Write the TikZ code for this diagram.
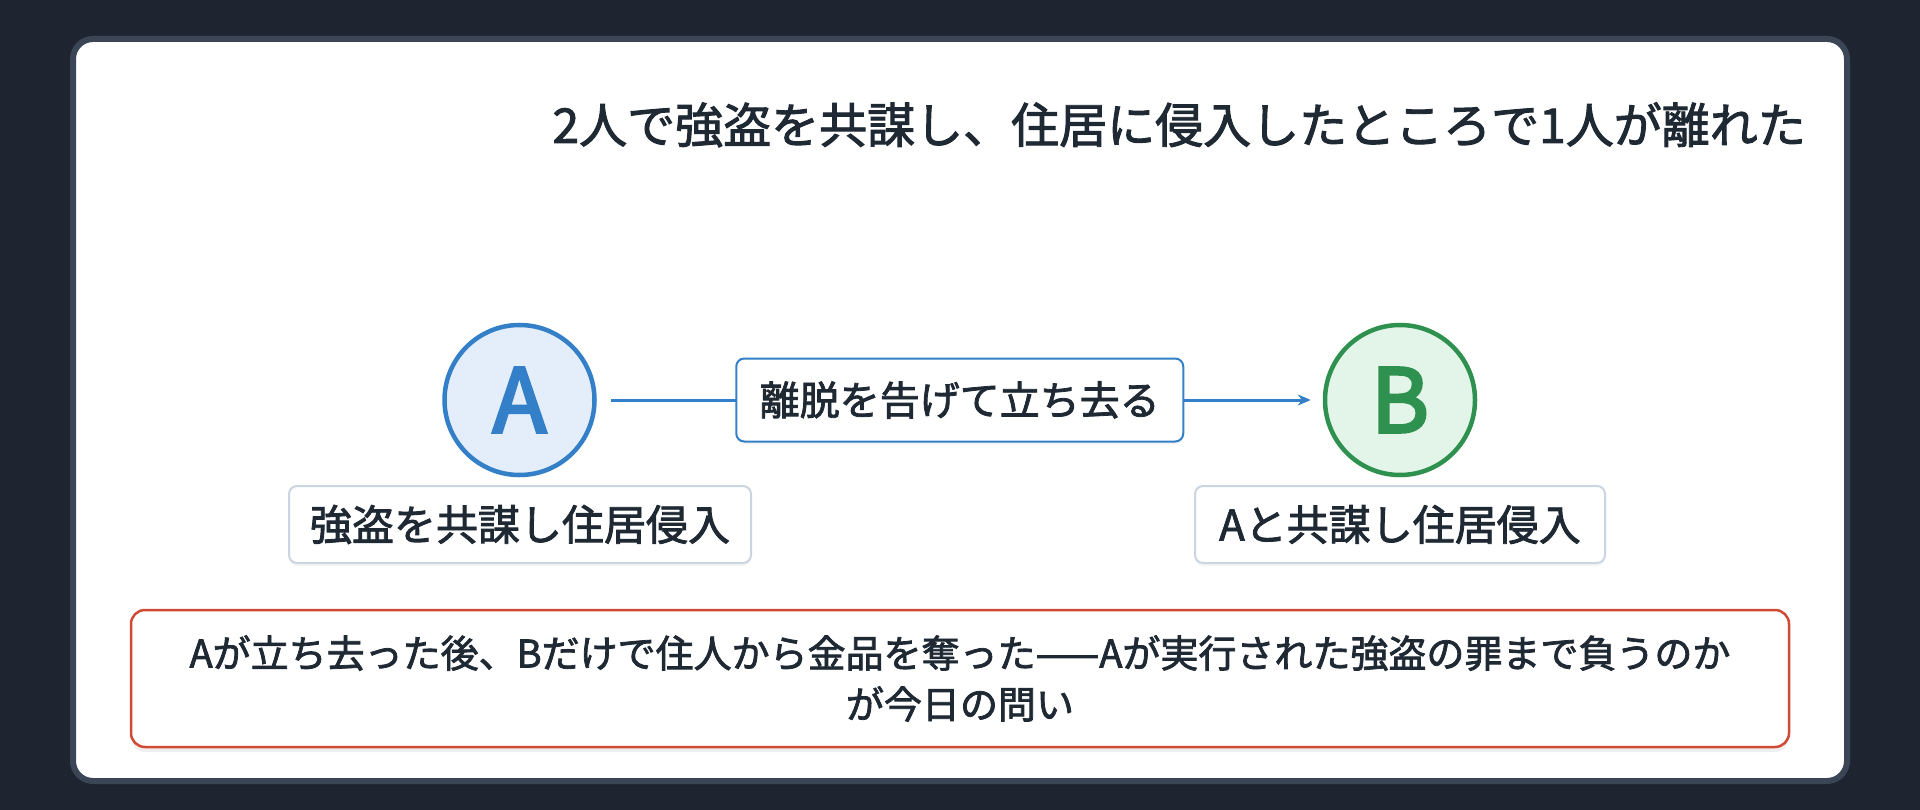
\documentclass[tikz,border=0pt]{standalone}
\usepackage{fontspec}
\setmainfont[FakeBold=2]{Noto Sans CJK JP}
\newfontfamily\letterfont[FakeBold=3.5]{Noto Sans CJK JP}
\usetikzlibrary{arrows.meta,shadows}
\definecolor{bgdark}{HTML}{1E2530}
\definecolor{cardborder}{HTML}{3A4555}
\definecolor{textdark}{HTML}{1F2933}
\definecolor{ablue}{HTML}{3380C8}
\definecolor{afill}{HTML}{E3EEFA}
\definecolor{bgreen}{HTML}{2E9150}
\definecolor{bfill}{HTML}{E3F5E8}
\definecolor{labelborder}{HTML}{CBD5E1}
\definecolor{qred}{HTML}{D14B34}
\tikzset{
  actor/.style={circle, minimum size=150pt, inner sep=0pt, line width=4.5pt,
    font=\letterfont\fontsize{88}{96}\selectfont},
  actorlabel/.style={rectangle, rounded corners=8pt, draw=labelborder, line width=2pt,
    fill=white, minimum height=77pt, inner sep=0pt, text=textdark,
    font=\fontsize{42}{50}\selectfont,
    drop shadow={opacity=0.08, shadow xshift=0pt, shadow yshift=-3pt}},
  edgebox/.style={rectangle, rounded corners=8pt, draw=ablue, line width=2pt,
    fill=white, minimum width=447pt, minimum height=83pt, inner sep=0pt, text=textdark,
    font=\fontsize{40}{48}\selectfont,
    drop shadow={opacity=0.08, shadow xshift=0pt, shadow yshift=-3pt}},
  questionbox/.style={rectangle, rounded corners=14pt, draw=qred, line width=2.5pt,
    fill=white, minimum width=1658pt, minimum height=137pt, inner sep=0pt, text=textdark,
    align=center, font=\fontsize{38}{51}\selectfont,
    drop shadow={opacity=0.12, shadow xshift=0pt, shadow yshift=-5pt}},
  flowarrow/.style={draw=ablue, line width=3pt, -{Stealth[length=13pt,width=11pt]}}
}
\begin{document}
\begin{tikzpicture}[x=1pt,y=-1pt]
\useasboundingbox (0,0) rectangle (1920,810);
\fill[bgdark] (0,0) rectangle (1920,810);
\draw[fill=white, draw=cardborder, line width=6pt, rounded corners=20pt] (73,39) rectangle (1847,781);

\node[anchor=base east, inner sep=0pt, text=textdark, font=\fontsize{48}{56}\selectfont] (title) at (1806,143)
  {2人で強盗を共謀し、住居に侵入したところで1人が離れた};

\node[actor, draw=ablue, fill=afill, text=ablue,
  drop shadow={opacity=0.08, shadow xshift=0pt, shadow yshift=-3pt}] (A) at (519.5,400) {A};
\node[actor, draw=bgreen, fill=bfill, text=bgreen,
  drop shadow={opacity=0.08, shadow xshift=0pt, shadow yshift=-3pt}] (B) at (1400,400) {B};

\draw[flowarrow, shorten <=14pt, shorten >=12pt] (A) -- node[edgebox] (leave) {離脱を告げて立ち去る} (B);

\node[actorlabel, minimum width=462pt] (Alabel) at (520,524.5) {強盗を共謀し住居侵入};
\node[actorlabel, minimum width=410pt] (Blabel) at (1400,524.5) {Aと共謀し住居侵入};

\node[questionbox] (question) at (960,678.5)
  {Aが立ち去った後、Bだけで住人から金品を奪った——Aが実行された強盗の罪まで負うのか\\が今日の問い};
\end{tikzpicture}
\end{document}
